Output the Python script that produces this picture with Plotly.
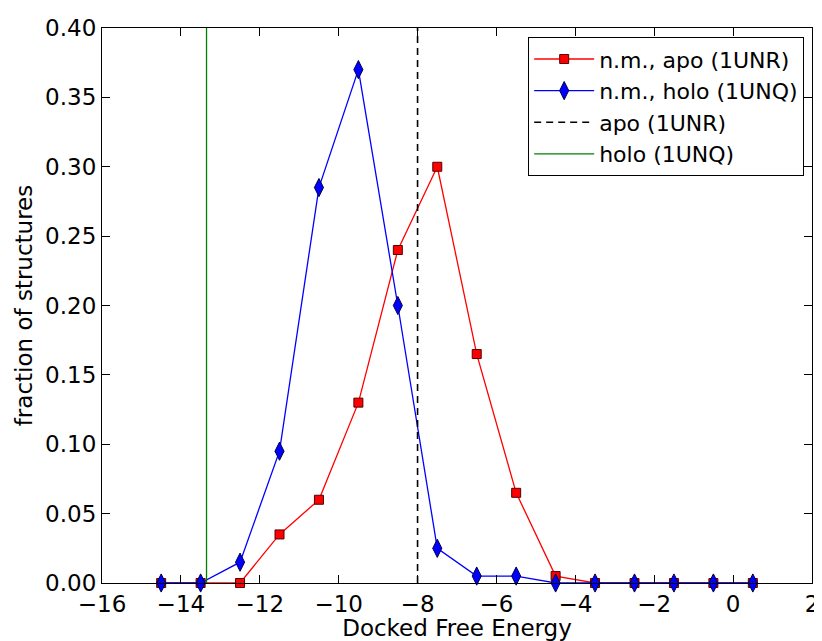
import plotly.graph_objects as go

energy = [-14.5, -13.5, -12.5, -11.5, -10.5, -9.5, -8.5, -7.5, -6.5, -5.5, -4.5, -3.5, -2.5, -1.5, -0.5, 0.5]
apo_frac = [0.0, 0.0, 0.0, 0.035, 0.06, 0.13, 0.24, 0.30, 0.165, 0.065, 0.005, 0.0, 0.0, 0.0, 0.0, 0.0]
holo_frac = [0.0, 0.0, 0.015, 0.095, 0.285, 0.37, 0.20, 0.025, 0.005, 0.005, 0.0, 0.0, 0.0, 0.0, 0.0, 0.0]
apo_ref = -8.0
holo_ref = -13.35
x_ticks = [-16, -14, -12, -10, -8, -6, -4, -2, 0, 2]
y_ticks = [0.0, 0.05, 0.10, 0.15, 0.20, 0.25, 0.30, 0.35, 0.40]

font = "DejaVu Sans"
fig = go.Figure()
fig.add_trace(go.Scatter(
    x=energy, y=apo_frac, mode="lines+markers", name="n.m., apo (1UNR)",
    line=dict(color="#ff0000", width=1.3),
    marker=dict(symbol="square", size=9, color="#ff0000", line=dict(color="#550000", width=1)),
    cliponaxis=False))
fig.add_trace(go.Scatter(
    x=energy, y=holo_frac, mode="lines+markers", name="n.m., holo (1UNQ)",
    line=dict(color="#0000ff", width=1.3),
    marker=dict(symbol="diamond-tall", size=13, color="#0000ff", line=dict(color="#000044", width=1)),
    cliponaxis=False))
fig.add_trace(go.Scatter(
    x=[apo_ref, apo_ref], y=[0, 0.40], mode="lines", name="apo (1UNR)",
    line=dict(color="black", width=1.6, dash="7px,5px")))
fig.add_trace(go.Scatter(
    x=[holo_ref, holo_ref], y=[0, 0.40], mode="lines", name="holo (1UNQ)",
    line=dict(color="#008000", width=1.3)))

axis_common = dict(
    showgrid=False, zeroline=False, showline=True, linecolor="black", linewidth=1.2,
    mirror="ticks", ticks="inside", ticklen=8, tickcolor="black", tickwidth=1,
    tickfont=dict(family=font, size=23, color="black"),
)
fig.update_xaxes(range=[-16, 2], tickvals=x_ticks, ticktext=["\u2212" + str(-v) if v < 0 else str(v) for v in x_ticks],
                 title=dict(text="Docked Free Energy", font=dict(family=font, size=23, color="black"), standoff=2),
                 automargin=False, **axis_common)
fig.update_yaxes(range=[0, 0.40], tickvals=y_ticks, ticktext=["%.2f" % v for v in y_ticks],
                 title=dict(text="fraction of structures", font=dict(family=font, size=23, color="black"), standoff=6),
                 automargin=False, **axis_common)

fig.update_layout(
    width=814, height=633,
    margin=dict(l=94, r=10, t=20, b=58),
    paper_bgcolor="white", plot_bgcolor="white",
    font=dict(family=font, size=22, color="black"),
    showlegend=True,
    legend=dict(x=0.9887, xanchor="right", y=0.9838, yanchor="top",
                bordercolor="black", borderwidth=1.2, bgcolor="white",
                font=dict(family=font, size=22, color="black"),
                itemwidth=60, tracegroupgap=0),
)
fig.write_html("out.html")
